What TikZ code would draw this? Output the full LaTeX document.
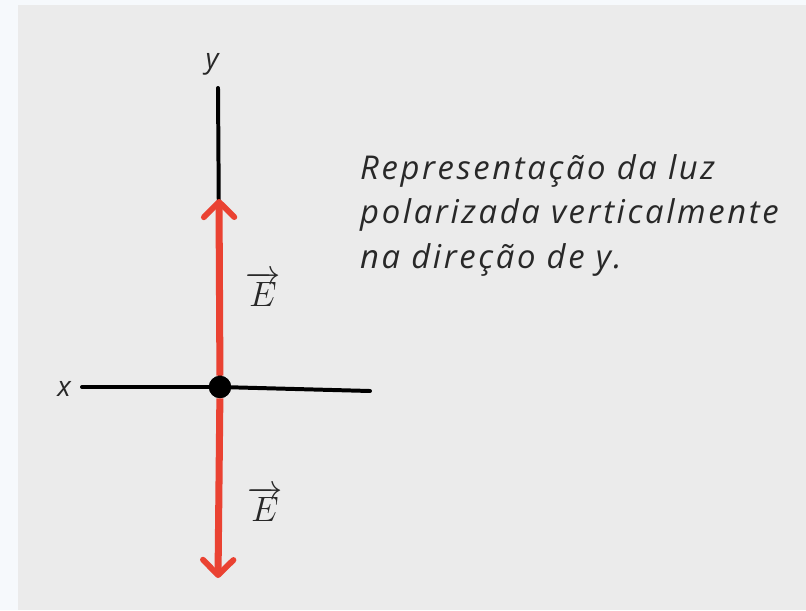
\documentclass[tikz,border=0pt]{standalone}
\usepackage{fontspec}
\setmainfont{Open Sans}
\usetikzlibrary{arrows.meta, positioning}

\definecolor{paper}{RGB}{246,249,252}
\definecolor{panel}{RGB}{235,235,235}
\definecolor{fieldred}{RGB}{234,66,50}
\definecolor{ink}{RGB}{40,40,40}

\begin{document}
\begin{tikzpicture}[x=0.03cm, y=-0.03cm,
    axis/.style={line width=3.4pt, line cap=round},
    field/.style={draw=fieldred, line width=6pt,
      -{Straight Barb[length=13pt, width=26pt, line width=5pt, round]}},
    lbl/.style={text=ink, font=\fontsize{24}{24}\selectfont\itshape, inner sep=0pt},
    vlbl/.style={text=ink, inner sep=0pt, scale=1.45, font=\fontsize{20}{20}\selectfont}]
    \useasboundingbox (0,0) rectangle (806,610);
    \fill[paper] (0,0) rectangle (806,610);
    \fill[panel] (18,5) rectangle (806,610);

    \node[circle, fill=black, inner sep=0pt, minimum size=19pt] (O) at (220,387) {};
    \node[lbl] (ylab) at (212,64) {y};
    \node[lbl] (xlab) at (64,389) {x};
    \coordinate (ytop) at (218,88);
    \coordinate (xleft) at (82,387);
    \coordinate (xright) at (370,391);
    \coordinate (up) at (219,199);
    \coordinate (down) at (218,578);
    \node[vlbl] (e1) at (263,289) {$\overrightarrow{E}$};
    \node[vlbl] (e2) at (265,504) {$\overrightarrow{E}$};
    \node[lbl, font=\fontsize{28}{38}\selectfont\itshape\addfontfeatures{LetterSpace=8},
      align=left, anchor=north west]
      (note) at (360,154) {Representação da luz\\polarizada verticalmente\\na direção de y.};

    \draw[axis] (ytop) -- (O);
    \draw[axis] (xleft) -- (O) -- (xright);
    \draw[field] (O) -- (up);
    \draw[field] (O) -- (down);
    \fill (O) circle (9.5pt);
  \end{tikzpicture}
\end{document}
